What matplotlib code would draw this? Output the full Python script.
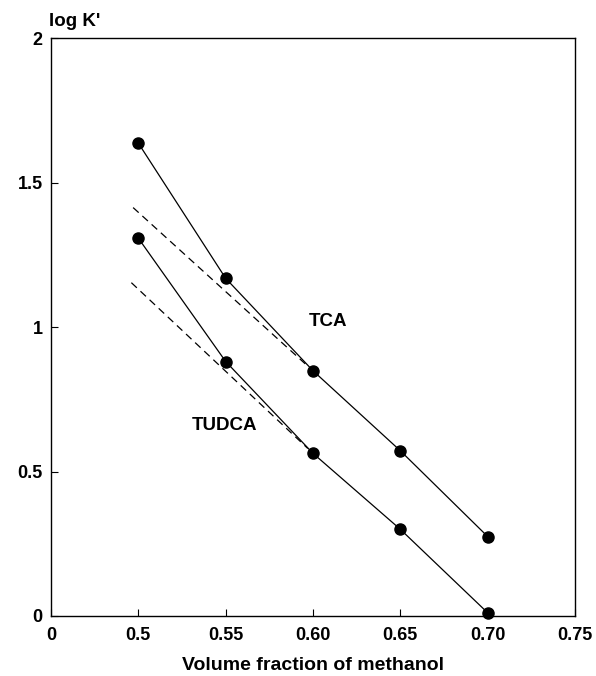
import matplotlib
matplotlib.use("Agg")
import matplotlib.pyplot as plt

# methanol fraction and log K'
fraction = [0.50, 0.55, 0.60, 0.65, 0.70]
tca = [1.637, 1.169, 0.849, 0.572, 0.275]
tudca = [1.308, 0.881, 0.563, 0.300, 0.011]

# dashed extrapolations (start and end points)
tca_dash_x = [0.497, 0.597]
tca_dash_y = [1.414, 0.865]
tudca_dash_x = [0.496, 0.597]
tudca_dash_y = [1.154, 0.580]

# x axis is broken: the first tick stands for 0
x_ticks = [0.45, 0.50, 0.55, 0.60, 0.65, 0.70, 0.75]
x_labels = ["0", "0.5", "0.55", "0.60", "0.65", "0.70", "0.75"]
y_ticks = [0, 0.5, 1, 1.5, 2]
y_labels = ["0", "0.5", "1", "1.5", "2"]

plt.rcParams["font.family"] = ["Liberation Sans", "DejaVu Sans"]
plt.rcParams["font.weight"] = "bold"

fig = plt.figure(figsize=(5.96, 6.76), dpi=100)
ax = fig.add_axes([0.0856, 0.0888, 0.8792, 0.8545])

ax.plot(fraction, tca, color="black", lw=0.9, marker="o", ms=8, clip_on=False)
ax.plot(fraction, tudca, color="black", lw=0.9, marker="o", ms=8, clip_on=False)
ax.plot(tca_dash_x, tca_dash_y, color="black", lw=0.9, dashes=(6, 4))
ax.plot(tudca_dash_x, tudca_dash_y, color="black", lw=0.9, dashes=(6, 4))

ax.text(0.5977, 1.019, "TCA", fontsize=13.5, fontweight="bold", va="center")
ax.text(0.5303, 0.661, "TUDCA", fontsize=13.5, fontweight="bold", va="center")

ax.set_xlim(0.45, 0.75)
ax.set_ylim(0, 2)
ax.set_xticks(x_ticks)
ax.set_xticklabels(x_labels)
ax.set_yticks(y_ticks)
ax.set_yticklabels(y_labels)
ax.tick_params(direction="in", length=5, width=0.8, labelsize=13)
ax.tick_params(axis="x", pad=8)
ax.tick_params(axis="y", pad=6)
for lab in ax.get_xticklabels() + ax.get_yticklabels():
    lab.set_fontweight("bold")
for sp in ax.spines.values():
    sp.set_linewidth(1.0)

ax.set_xlabel("Volume fraction of methanol", fontsize=14, fontweight="bold", labelpad=9)
fig.text(0.082, 0.968, "log K'", fontsize=13.5, fontweight="bold", va="center")

plt.savefig("out.png", dpi=100)
